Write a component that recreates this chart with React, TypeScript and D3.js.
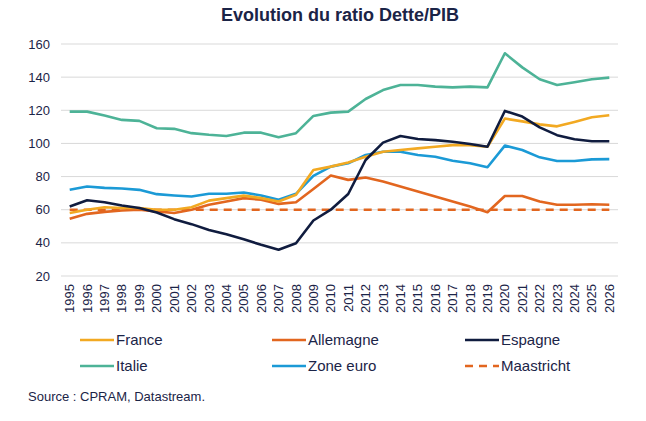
import { useEffect, useRef } from 'react';
import * as d3 from 'd3';

const years = d3.range(1995, 2027).map(String);

const france = [58, 60, 61.5, 61, 61, 60, 60, 61.5, 65.5, 67, 68.5, 67, 65, 69, 84, 86, 88.5, 92, 95, 96, 97, 98, 99, 99, 98, 115, 113.3, 111.5, 110.3, 113, 115.8, 117];
const allemagne = [54.5, 57.5, 58.7, 59.5, 60, 59, 58, 60, 63, 65, 67, 66, 63.5, 64.5, 72.5, 80.6, 78, 79.4, 77, 74, 71, 68, 65, 62, 58.5, 68.3, 68.3, 65, 63, 63, 63.3, 63];
const espagne = [62, 65.7, 64.5, 62.5, 61, 58.3, 54.3, 51.3, 47.8, 45.2, 42.2, 38.8, 35.8, 39.8, 53.5, 60, 69.5, 90, 100.5, 104.5, 102.7, 102, 101, 99.7, 98, 119.6, 116.2, 109.7, 105, 102.5, 101.3, 101.3];
const italie = [119.2, 119.2, 116.8, 114.2, 113.6, 109.2, 108.8, 106.2, 105.2, 104.5, 106.5, 106.5, 103.7, 106.2, 116.6, 118.6, 119.2, 126.8, 132.2, 135.3, 135.3, 134.3, 133.8, 134.3, 133.8, 154.4, 145.9, 138.7, 135.3, 136.9, 138.7, 139.7];
const zoneEuro = [72, 74, 73.2, 72.8, 72, 69.4, 68.6, 68, 69.6, 69.6, 70.4, 68.6, 66, 69.6, 80.4, 86, 88, 93, 95, 95, 93, 92, 89.6, 88, 85.6, 98.7, 96, 91.6, 89.4, 89.4, 90.4, 90.5];
const maastricht = years.map(() => 60);

const yTicks = [20, 40, 60, 80, 100, 120, 140, 160];

const seriesNames = ['France', 'Allemagne', 'Espagne', 'Italie', 'Zone euro', 'Maastricht'];
const seriesValues = [france, allemagne, espagne, italie, zoneEuro, maastricht];
const colors = ['#F2A922', '#E2661F', '#101C3F', '#4DB397', '#1B9AD6', '#E2661F'];

const textColor = '#1B2447';
const font = '"Liberation Sans", Arial, sans-serif';

export default function App() {
  const svgRef = useRef<SVGSVGElement>(null);
  const width = 646;
  const height = 421;

  useEffect(() => {
    if (!svgRef.current) return;
    const svg = d3.select(svgRef.current);
    svg.selectAll('*').remove();

    const left = 61, right = 618, top = 44, bottom = 276;

    const x = d3.scaleBand().domain(years).range([left, right]);
    const y = d3.scaleLinear().domain([20, 160]).range([bottom, top]);
    const cx = (d: string) => (x(d) ?? 0) + x.bandwidth() / 2;

    // title
    svg.append('text')
      .attr('x', 340)
      .attr('y', 21)
      .attr('text-anchor', 'middle')
      .attr('font-family', font)
      .attr('font-weight', 'bold')
      .attr('font-size', 18)
      .attr('fill', textColor)
      .text('Evolution du ratio Dette/PIB');

    // grid
    svg.append('g')
      .selectAll('line')
      .data(yTicks)
      .enter().append('line')
      .attr('x1', left)
      .attr('x2', right)
      .attr('y1', d => y(d))
      .attr('y2', d => y(d))
      .attr('stroke', '#D9D9D9')
      .attr('stroke-width', 1);

    // y labels
    svg.append('g')
      .selectAll('text')
      .data(yTicks)
      .enter().append('text')
      .attr('x', 50)
      .attr('y', d => y(d))
      .attr('dy', '0.35em')
      .attr('text-anchor', 'end')
      .attr('font-family', font)
      .attr('font-size', 13)
      .attr('fill', textColor)
      .text(d => d);

    // x labels
    svg.append('g')
      .selectAll('text')
      .data(years)
      .enter().append('text')
      .attr('transform', d => `translate(${cx(d)},284) rotate(-90)`)
      .attr('dy', '0.35em')
      .attr('text-anchor', 'end')
      .attr('font-family', font)
      .attr('font-size', 13)
      .attr('fill', textColor)
      .text(d => d);

    // lines
    const line = d3.line<number>()
      .x((_, i) => cx(years[i]))
      .y(d => y(d));

    const order = [5, 3, 4, 1, 0, 2];
    order.forEach(i => {
      svg.append('path')
        .datum(seriesValues[i])
        .attr('fill', 'none')
        .attr('stroke', colors[i])
        .attr('stroke-width', 2.6)
        .attr('stroke-linejoin', 'round')
        .attr('stroke-dasharray', i === 5 ? '8,6' : null)
        .attr('d', line);
    });

    // legend
    const legX = [80, 272, 465];
    const legY = [340, 366];
    seriesNames.forEach((name, i) => {
      const lx = legX[i % 3];
      const ly = legY[Math.floor(i / 3)];
      const g = svg.append('g');
      g.append('line')
        .attr('x1', lx)
        .attr('x2', lx + 34)
        .attr('y1', ly)
        .attr('y2', ly)
        .attr('stroke', colors[i])
        .attr('stroke-width', 2.6)
        .attr('stroke-dasharray', i === 5 ? '8,6' : null);
      g.append('text')
        .attr('x', lx + 36)
        .attr('y', ly)
        .attr('dy', '0.35em')
        .attr('font-family', font)
        .attr('font-size', 15)
        .attr('fill', textColor)
        .text(name);
    });

    // source
    svg.append('text')
      .attr('x', 28)
      .attr('y', 401)
      .attr('font-family', font)
      .attr('font-size', 13)
      .attr('fill', textColor)
      .text('Source : CPRAM, Datastream.');
  }, []);

  return (
    <svg
      ref={svgRef}
      width={width}
      height={height}
      style={{ position: 'absolute', left: 0, top: 0, background: '#fff' }}
    />
  );
}
